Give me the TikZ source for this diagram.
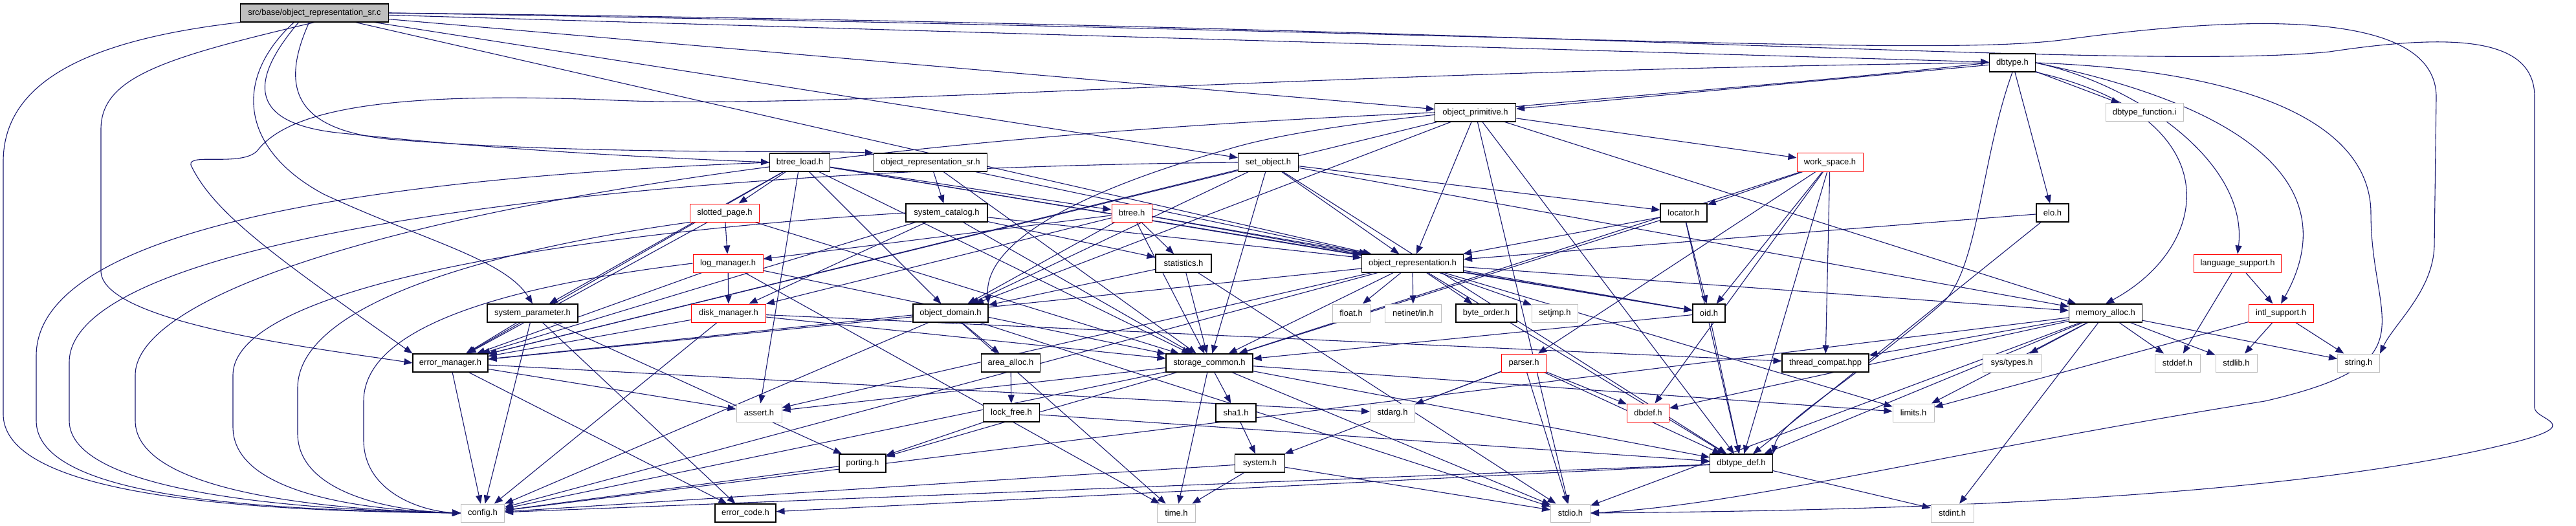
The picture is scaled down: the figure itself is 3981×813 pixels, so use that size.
\documentclass[tikz,border=0pt]{standalone}
\usepackage{fontspec}
\setmainfont{Liberation Sans}
\usetikzlibrary{arrows.meta}
\pgfdeclarelayer{bg}
\pgfsetlayers{bg,main}
\definecolor{edgec}{RGB}{25,25,112}
\definecolor{grayb}{RGB}{191,191,191}
\begin{document}
\begin{tikzpicture}[x=1pt,y=-1pt,
  nd/.style={draw=black, line width=1.1pt, minimum height=28pt, inner sep=0pt, fill=white, font=\fontsize{13}{15}\selectfont},
  nr/.style={nd, draw=red, line width=1pt},
  ng/.style={nd, draw=grayb, line width=1pt},
  edg/.style={draw=edgec, line width=1.1pt, -{Triangle[length=13pt,width=10pt]}}]
\useasboundingbox (0,0) rectangle (3981,813);
\node[nd, fill=grayb, minimum width=229pt] (root) at (486,20) {src/base/object\_representation\_sr.c};
\node[nd, minimum width=71pt] (dbtype) at (3110,97) {dbtype.h};
\node[nd, minimum width=125pt] (objprim) at (2280,174) {object\_primitive.h};
\node[ng, minimum width=120pt] (dbtypefn) at (3314,174) {dbtype\_function.i};
\node[nd, minimum width=93pt] (btreeload) at (1236,251) {btree\_load.h};
\node[nd, minimum width=175pt] (orsrh) at (1438,251) {object\_representation\_sr.h};
\node[nd, minimum width=93pt] (setobj) at (1960,251) {set\_object.h};
\node[nr, minimum width=102pt] (workspace) at (2828,251) {work\_space.h};
\node[nr, minimum width=107pt] (slotted) at (1120,329) {slotted\_page.h};
\node[nd, minimum width=126pt] (syscat) at (1463,329) {system\_catalog.h};
\node[nr, minimum width=62pt] (btree) at (1749,329) {btree.h};
\node[nd, minimum width=72pt] (locator) at (2602,329) {locator.h};
\node[nd, minimum width=50pt] (elo) at (3172,329) {elo.h};
\node[nr, minimum width=108pt] (logmgr) at (1125,407) {log\_manager.h};
\node[nd, minimum width=86pt] (stats) at (1829,407) {statistics.h};
\node[nd, minimum width=157pt] (objrep) at (2183,407) {object\_representation.h};
\node[nr, minimum width=135pt] (langsup) at (3458,407) {language\_support.h};
\node[nd, minimum width=140pt] (sysparam) at (823,484) {system\_parameter.h};
\node[nr, minimum width=115pt] (diskmgr) at (1126,484) {disk\_manager.h};
\node[nd, minimum width=116pt] (objdom) at (1469,484) {object\_domain.h};
\node[ng, minimum width=58pt] (float) at (2088,484) {float.h};
\node[ng, minimum width=87pt] (netinet) at (2184,484) {netinet/in.h};
\node[nd, minimum width=94pt] (byteorder) at (2297,484) {byte\_order.h};
\node[ng, minimum width=71pt] (setjmp) at (2403,484) {setjmp.h};
\node[nd, minimum width=50pt] (oid) at (2641,484) {oid.h};
\node[nd, minimum width=113pt] (memalloc) at (3254,484) {memory\_alloc.h};
\node[nr, minimum width=100pt] (intlsup) at (3525,484) {intl\_support.h};
\node[nd, minimum width=116pt] (errmgr) at (696,561) {error\_manager.h};
\node[nd, minimum width=91pt] (areaalloc) at (1562,561) {area\_alloc.h};
\node[nd, minimum width=134pt] (storage) at (1869,561) {storage\_common.h};
\node[nr, minimum width=69pt] (parser) at (2355,561) {parser.h};
\node[nd, minimum width=134pt] (threadcompat) at (2821,561) {thread\_compat.hpp};
\node[ng, minimum width=90pt] (systypes) at (3109,561) {sys/types.h};
\node[ng, minimum width=70pt] (stddef) at (3365,561) {stddef.h};
\node[ng, minimum width=64pt] (stdlib) at (3456,561) {stdlib.h};
\node[ng, minimum width=65pt] (string) at (3645,561) {string.h};
\node[ng, minimum width=70pt] (assert) at (1173,638) {assert.h};
\node[nd, minimum width=87pt] (lockfree) at (1563,638) {lock\_free.h};
\node[nd, minimum width=62pt] (sha1) at (1910,638) {sha1.h};
\node[ng, minimum width=69pt] (stdarg) at (2152,638) {stdarg.h};
\node[nr, minimum width=65pt] (dbdef) at (2547,638) {dbdef.h};
\node[ng, minimum width=64pt] (limits) at (2957,638) {limits.h};
\node[nd, minimum width=72pt] (porting) at (1333,716) {porting.h};
\node[nd, minimum width=77pt] (system) at (1947,716) {system.h};
\node[nd, minimum width=97pt] (dbtypedef) at (2691,716) {dbtype\_def.h};
\node[ng, minimum width=67pt] (config) at (746,793) {config.h};
\node[nd, minimum width=94pt] (errcode) at (1152,793) {error\_code.h};
\node[ng, minimum width=59pt] (time) at (1818,793) {time.h};
\node[ng, minimum width=61pt] (stdio) at (2427,793) {stdio.h};
\node[ng, minimum width=66pt] (stdint) at (3017,793) {stdint.h};

\begin{pgfonlayer}{bg}
\newcommand\Es[2]{\foreach \t in {#2} {\draw[edg] (#1) -- (\t);}}
% curved routes from the root
\draw[edg] (root.south west) .. controls (150,60) and (5,120) .. (5,250) -- (5,640) .. controls (5,770) and (400,790) .. (config.west);
\draw[edg] (root.south) .. controls (250,90) and (156,120) .. (156,200) -- (156,420) .. controls (160,500) and (500,540) .. (errmgr.west);
\draw[edg] (455,34) .. controls (360,120) and (370,230) .. (500,300) .. controls (650,370) and (780,400) .. (sysparam.north);
\draw[edg] (462,34) .. controls (380,130) and (390,190) .. (520,205) .. controls (800,235) and (1050,245) .. (btreeload.west);
\draw[edg] (478,34) .. controls (430,140) and (460,200) .. (600,215) .. controls (900,240) and (1250,232) .. (orsrh.north west);
\draw[edg] (root.east) .. controls (2400,50) and (3000,90) .. (3200,60) .. controls (3500,20) and (3765,20) .. (3765,150) -- (3762,380) .. controls (3760,450) and (3700,500) .. (string.north east);
\draw[edg] (root.east) .. controls (2400,40) and (3300,110) .. (3600,80) .. controls (3800,50) and (3917,60) .. (3917,150) -- (3917,630) .. controls (3917,650) and (4000,655) .. (3880,685) .. controls (3500,780) and (2800,790) .. (stdio.east);
% left bundle into config.h
\draw[edg] (btreeload.west) .. controls (700,270) and (56,330) .. (56,550) -- (56,650) .. controls (56,770) and (400,788) .. (config.west);
\draw[edg] (setobj.west) .. controls (1000,260) and (107,360) .. (107,560) -- (107,650) .. controls (107,760) and (450,788) .. (config.west);
\draw[edg] (objprim.west) .. controls (900,230) and (209,420) .. (209,580) -- (209,650) .. controls (209,760) and (500,788) .. (config.west);
\draw[edg] (syscat.west) .. controls (900,360) and (360,440) .. (360,580) -- (360,660) .. controls (360,760) and (550,788) .. (config.west);
\draw[edg] (slotted.south west) .. controls (800,380) and (460,460) .. (460,600) -- (460,670) .. controls (460,760) and (600,790) .. (config.west);
\draw[edg] (logmgr.west) .. controls (800,440) and (562,500) .. (562,620) -- (562,680) .. controls (562,760) and (650,790) .. (config.west);
% dbtype.h curves
\draw[edg] (dbtype.west) .. controls (2000,110) and (1300,170) .. (950,155) .. controls (600,140) and (450,170) .. (400,230) .. controls (380,260) and (290,235) .. (295,255) .. controls (330,330) and (430,400) .. (errmgr.north west);
\draw[edg] (dbtype.east) .. controls (3300,130) and (3475,250) .. (langsup.north);
\draw[edg] (dbtype.south east) .. controls (3450,180) and (3420,380) .. (memalloc.north);
\draw[edg] (dbtype.east) .. controls (3500,170) and (3620,300) .. (intlsup.north);
\draw[edg] (dbtype.east) .. controls (3500,110) and (3664,200) .. (3664,330) .. controls (3664,500) and (3760,560) .. (3500,620) .. controls (3000,700) and (2700,780) .. (stdio.east);
\draw[edg] (dbtype.south) .. controls (3060,250) and (3058,420) .. (3000,470) .. controls (2850,600) and (2750,650) .. (dbtypedef.north east);
\draw[edg] (dbtype.west) .. controls (2600,150) and (2100,170) .. (1900,230) .. controls (1650,300) and (1520,380) .. (objdom.north east);
% straight edges
\Es{root}{setobj,objprim,dbtype,objrep}
\Es{dbtype}{dbtypefn,elo,objprim}
\Es{objprim}{objrep,workspace,objdom,errmgr,memalloc,dbtypedef,stdio}
\Es{setobj}{objrep,locator,errmgr,objdom,dbtypedef,memalloc,storage}
\Es{btreeload}{slotted,btree,errmgr,assert,storage,objdom,oid,sysparam,objrep}
\Es{orsrh}{syscat,objrep,storage}
\Es{workspace}{locator,oid,dbdef,dbtypedef,storage,parser,threadcompat}
\Es{slotted}{logmgr,storage,errmgr}
\Es{syscat}{objrep,stats,diskmgr,storage,errmgr}
\Es{btree}{stats,objdom,diskmgr,objrep,storage,oid,logmgr}
\Es{locator}{objrep,oid,storage,dbtypedef}
\Es{elo}{objrep,dbtypedef}
\Es{logmgr}{diskmgr,errmgr,storage,time}
\Es{stats}{storage,objdom,stdio}
\Es{objrep}{float,netinet,byteorder,setjmp,oid,memalloc,errmgr,config,storage,dbtypedef,limits,assert}
\Es{langsup}{intlsup,stddef}
\Es{sysparam}{errmgr,config,porting,errcode}
\Es{diskmgr}{storage,config,errmgr,threadcompat}
\Es{objdom}{areaalloc,time,config,errmgr,stdio}
\Es{oid}{dbtypedef,storage}
\Es{memalloc}{threadcompat,config,dbtypedef,limits,stdio,stdint,systypes,stddef,stdlib,string,dbdef}
\Es{intlsup}{stdlib,string,limits}
\Es{errmgr}{config,errcode,assert,stdarg}
\Es{areaalloc}{lockfree}
\Es{storage}{assert,porting,time,sha1,stdio,dbtypedef,config,limits}
\Es{parser}{stdarg,stdio,dbdef,dbtypedef,system}
\Es{lockfree}{porting,dbtypedef}
\Es{sha1}{system}
\Es{porting}{config}
\Es{system}{time,config,stdio}
\Es{dbtypedef}{stdint,errcode,config}
\end{pgfonlayer}
\end{tikzpicture}
\end{document}
